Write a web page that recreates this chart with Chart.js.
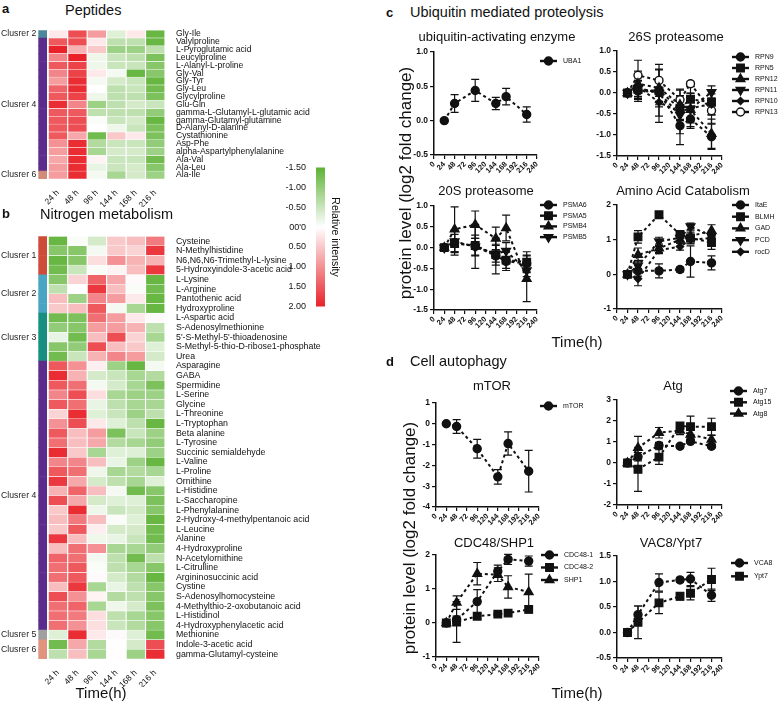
<!DOCTYPE html>
<html>
<head>
<meta charset="utf-8">
<script src="https://cdn.jsdelivr.net/npm/chart.js@4.4.1/dist/chart.umd.min.js"></script>
<style>
  body { margin: 0; width: 784px; height: 702px; background: #fff; position: relative; overflow: hidden;
         font-family: "Liberation Sans", Arial, sans-serif; color: #111; }
  canvas { position: absolute; }
  .t { position: absolute; white-space: nowrap; line-height: 1; }
</style>
</head>
<body>
<script>
// ---------- data ----------
const hours = [24, 48, 96, 144, 168, 216];
const heatTimeLabels = ['24 h', '48 h', '96 h', '144 h', '168 h', '216 h'];

const peptideNames = ['Gly-Ile', 'Valylproline', 'L-Pyroglutamic acid', 'Leucylproline', 'L-Alanyl-L-proline',
  'Gly-Val', 'Gly-Tyr', 'Gly-Leu', 'Glycylproline', 'Glu-Gln', 'gamma-L-Glutamyl-L-glutamic acid',
  'gamma-Glutamyl-glutamine', 'D-Alanyl-D-alanine', 'Cystathionine', 'Asp-Phe', 'alpha-Aspartylphenylalanine',
  'Ala-Val', 'Ala-Leu', 'Ala-Ile'];
const peptideGroups = [['Clusrer 2', 1], ['Clusrer 4', 17], ['Clusrer 6', 1]];
const peptideGroupColors = ['#4c879a', '#5b2c8c', '#d08a78'];
const peptideValues = [
  [0.2, 1.6, 0.9, -0.3, 0.2, -1.4],
  [1.5, 1.6, 0.2, -0.6, -0.6, -1.4],
  [2.0, 0.7, 0.5, -0.9, -0.9, -0.6],
  [1.1, 2.0, -0.15, -0.5, -0.6, -1.2],
  [1.5, 1.7, -0.15, -0.5, -0.5, -1.1],
  [1.1, 1.7, 0.2, -0.1, -1.4, -1.1],
  [0.9, 1.9, -0.1, -0.4, -0.5, -1.4],
  [1.4, 1.9, 0.0, -0.6, -0.5, -1.3],
  [1.5, 1.7, -0.15, -0.6, -0.6, -1.2],
  [1.9, 1.1, -0.9, -0.6, -0.4, -0.5],
  [1.5, 1.5, -0.6, -0.6, -0.6, -1.0],
  [1.5, 1.6, -0.05, -0.5, -0.4, -1.4],
  [1.5, 1.6, 0.0, -0.15, -0.5, -1.2],
  [1.5, 0.8, -1.3, 0.5, 0.2, -1.2],
  [1.0, 1.9, -0.7, -0.5, -0.5, -1.0],
  [0.9, 1.9, -0.8, -0.4, -0.4, -0.9],
  [0.8, 1.9, 0.1, -0.5, -0.5, -1.3],
  [0.9, 1.9, -0.2, -0.5, -0.4, -1.1],
  [0.9, 1.9, -0.1, -0.8, -0.4, -0.9]
];

const nitrogenNames = ['Cysteine', 'N-Methylhistidine', 'N6,N6,N6-Trimethyl-L-lysine', '5-Hydroxyindole-3-acetic acid',
  'L-Lysine', 'L-Arginine', 'Pantothenic acid', 'Hydroxyproline',
  'L-Aspartic acid', 'S-Adenosylmethionine', "5'-S-Methyl-5'-thioadenosine", 'S-Methyl-5-thio-D-ribose1-phosphate', 'Urea',
  'Asparagine', 'GABA', 'Spermidine', 'L-Serine', 'Glycine', 'L-Threonine', 'L-Tryptophan', 'Beta alanine',
  'L-Tyrosine', 'Succinic semialdehyde', 'L-Valine', 'L-Proline', 'Ornithine', 'L-Histidine', 'L-Saccharopine',
  'L-Phenylalanine', '2-Hydroxy-4-methylpentanoic acid', 'L-Leucine', 'Alanine', '4-Hydroxyproline',
  'N-Acetylornithine', 'L-Citrulline', 'Argininosuccinic acid', 'Cystine', 'S-Adenosylhomocysteine',
  '4-Methylthio-2-oxobutanoic acid', 'L-Histidinol', '4-Hydroxyphenylacetic acid',
  'Methionine', 'Indole-3-acetic acid', 'gamma-Glutamyl-cysteine'];
const nitrogenGroups = [['Clusrer 1', 4], ['Clusrer 2', 4], ['Clusrer 3', 5], ['Clusrer 4', 28], ['Clusrer 5', 1], ['Clusrer 6', 2]];
const nitrogenGroupColors = ['#cf4b38', '#4aa5c3', '#17907f', '#5b2c8c', '#a0a0a0', '#e0947e'];
const nitrogenValues = [
  [-1.4, -0.05, -0.4, 0.5, 0.6, 1.2],
  [-1.1, -1.1, -0.1, 0.5, 0.4, 1.8],
  [-1.4, -1.1, 0.3, 1.0, 0.7, 0.7],
  [-1.3, -0.5, -0.05, 0.1, 0.6, 1.8],
  [-1.1, 0.4, 1.4, 0.8, 0.05, -1.4],
  [-0.6, 0.0, 1.8, 0.6, -0.05, -1.3],
  [0.6, -0.9, 1.1, 0.9, 0.2, -1.4],
  [0.5, 0.6, 1.5, -0.1, -0.8, -1.4],
  [-1.3, -1.2, 1.3, 0.9, 0.2, 0.05],
  [-1.0, -1.1, 0.9, 0.9, 0.7, -0.6],
  [-0.2, -1.3, 0.6, 1.6, 0.4, -0.8],
  [-1.1, -1.0, 1.6, 0.6, 0.5, -0.3],
  [-1.3, -0.5, 0.7, 1.1, 0.9, -0.4],
  [1.5, 1.0, 0.15, -0.9, -1.4, -0.1],
  [1.9, 0.7, -0.4, -0.5, -0.8, -0.7],
  [1.5, 1.3, -0.1, -0.4, -0.8, -1.2],
  [1.1, 1.6, 0.3, -0.8, -0.9, -0.9],
  [1.5, 1.3, -0.2, -0.6, -0.8, -0.8],
  [0.4, 1.9, -0.3, -0.5, -0.9, -0.6],
  [1.0, 1.6, 0.2, -0.3, -0.6, -1.4],
  [1.5, 0.6, 0.9, -1.2, -0.5, -0.9],
  [1.3, 0.6, 0.8, -0.7, -0.8, -1.0],
  [1.9, 0.5, -0.8, -0.3, -0.3, -0.9],
  [1.1, 1.1, 0.6, -0.2, -0.9, -1.4],
  [1.5, 1.3, -0.15, -0.8, -0.7, -0.8],
  [1.8, 0.8, -0.4, -0.6, -0.8, -0.3],
  [0.7, 1.4, 0.6, -0.1, -1.3, -1.1],
  [1.6, 0.8, -0.4, -0.3, -0.3, -1.2],
  [0.5, 1.9, -0.15, -0.5, -0.4, -1.1],
  [0.6, 1.2, 0.6, -0.05, -0.3, -1.4],
  [0.5, 1.5, 0.15, -0.4, -0.4, -1.3],
  [1.8, 0.6, -0.15, -0.2, -0.5, -1.3],
  [0.6, 1.3, 1.0, -0.8, -0.8, -1.0],
  [1.4, 1.3, -0.1, -0.6, -1.3, -0.6],
  [1.3, 1.5, -0.05, -0.6, -0.8, -1.1],
  [1.3, 1.5, 0.05, -0.4, -0.7, -1.4],
  [0.6, 1.8, -0.8, -0.2, -0.6, -1.1],
  [1.6, 1.0, 0.1, -0.7, -0.6, -1.1],
  [1.3, 1.4, -0.8, -0.15, -0.4, -1.2],
  [1.3, 1.2, 0.3, -0.6, -0.8, -1.1],
  [1.3, 1.0, 0.3, -0.5, -0.7, -1.1],
  [-0.3, 1.9, 0.2, 0.05, -0.3, -1.3],
  [-1.3, 0.8, -0.7, 0.02, -0.4, 1.6],
  [-0.6, 0.6, -0.8, 0.02, -0.9, 1.9]
];

const colorbarTicks = [-1.5, -1, -0.5, 0, 0.5, 1, 1.5, 2];
const colorbarLabels = ['-1.50', '-1.00', '-0.50', "00'0", '0.50', '1.00', '1.50', '2.00'];

// c: ubiquitin mediated proteolysis
const uba1 = [0, 0.25, 0.44, 0.25, 0.35, 0.09];
const uba1Err = [0, 0.13, 0.16, 0.09, 0.12, 0.11];

const rpn9 = [0, 0.05, 0.02, -0.78, -0.62, -1.04];
const rpn9Err = [0, 0.25, 0.3, 0.45, 0.22, 0.3];
const rpn5 = [0, 0.08, 0.05, -0.36, -0.15, -0.22];
const rpn5Err = [0, 0.2, 0.25, 0.3, 0.3, 0.3];
const rpn12 = [0, 0.22, 0.12, -0.28, -0.4, -0.97];
const rpn12Err = [0, 0.3, 0.45, 0.35, 0.4, 0.35];
const rpn11 = [0, 0.12, 0.0, -0.52, -0.38, 0.02];
const rpn11Err = [0, 0.25, 0.55, 0.45, 0.3, 0.15];
const rpn10 = [0, 0.15, -0.22, -0.45, -0.36, -0.27];
const rpn10Err = [0, 0.3, 0.48, 0.3, 0.35, 0.25];
const rpn13 = [0, 0.42, 0.3, -0.16, 0.22, -0.42];
const rpn13Err = [0, 0.36, 0.38, 0.25, 0.06, 0.3];

const psma6 = [0, 0.12, 0.03, -0.2, -0.33, -0.38];
const psma6Err = [0, 0.3, 0.53, 0.43, 0.22, 0.2];
const psma5 = [0, 0.1, 0.05, -0.17, -0.3, -0.35];
const psma5Err = [0, 0.22, 0.25, 0.25, 0.2, 0.25];
const psmb4 = [0, 0.44, 0.55, 0.22, 0.47, -0.75];
const psmb4Err = [0, 0.54, 0.33, 0.27, 0.31, 0.55];
const psmb5 = [0, 0.15, 0.02, -0.15, -0.08, -0.55];
const psmb5Err = [0, 0.25, 0.2, 0.2, 0.2, 0.15];

const itaE = [0, 0.1, 0.1, 0.14, 0.37, 0.33];
const itaEErr = [0, 0.15, 0.2, 0.07, 0.45, 0.2];
const blmh = [0, 1.08, 1.72, 1.15, 1.05, 0.92];
const blmhErr = [0, 0.18, 0.05, 0.1, 0.15, 0.2];
const gad = [0, 0.56, 0.75, 1.0, 1.1, 1.26];
const gadErr = [0, 0.2, 0.12, 0.1, 0.15, 0.17];
const pcd = [0, 0.25, 0.95, 1.05, 1.38, 1.1];
const pcdErr = [0, 0.15, 0.12, 0.1, 0.1, 0.1];
const rocD = [0, -0.13, 0.7, 0.8, 1.0, 1.05];
const rocDErr = [0, 0.2, 0.1, 0.1, 0.12, 0.1];

// d: cell autophagy
const mtor = [0, -0.13, -1.2, -2.55, -0.95, -2.28];
const mtorErr = [0, 0.33, 0.45, 0.35, 0.56, 1.0];

const atg7 = [0, 0.3, 0.83, 0.8, 1.03, 0.8];
const atg7Err = [0, 0.2, 0.15, 0.08, 0.1, 0.08];
const atg15 = [0, -0.3, 0.28, 1.77, 1.73, 1.73];
const atg15Err = [0, 1.05, 0.35, 0.12, 0.5, 0.4];
const atg8 = [0, 0.72, 1.44, 1.55, 1.36, 1.12];
const atg8Err = [0, 0.55, 0.25, 0.2, 0.2, 0.2];

const cdc48a = [0, 0.1, 0.63, 1.52, 1.87, 1.82];
const cdc48aErr = [0, 0.1, 0.35, 0.18, 0.15, 0.15];
const cdc48b = [0, 0.03, 0.2, 0.26, 0.29, 0.4];
const cdc48bErr = [0, 0.6, 0.08, 0.05, 0.05, 0.1];
const shp1 = [0, 0.6, 1.45, 1.42, 1.06, 0.91];
const shp1Err = [0, 0.2, 0.33, 0.2, 0.33, 0.53];

const vca8 = [0, 0.35, 0.98, 1.03, 1.05, 0.73];
const vca8Err = [0, 0.17, 0.17, 0.05, 0.13, 0.12];
const ypt7 = [0, 0.2, 0.58, 0.71, 0.77, 1.04];
const ypt7Err = [0, 0.32, 0.21, 0.07, 0.13, 0.22];

// ---------- helpers ----------
const FONT = '"Liberation Sans", Arial, sans-serif';
Chart.defaults.font.family = FONT;
Chart.defaults.color = '#111';

function heatColor(v) {
  const w = [255, 255, 255], g = [92, 178, 52], r = [232, 34, 40];
  let c, t;
  if (v < 0) { c = g; t = Math.min(1, -v / 1.5); } else { c = r; t = Math.min(1, v / 2); }
  const m = w.map((x, i) => Math.round(x + (c[i] - x) * t));
  return 'rgb(' + m.join(',') + ')';
}

function makeCanvas(id, left, top, w, h) {
  const cv = document.createElement('canvas');
  cv.id = id;
  cv.width = w; cv.height = h;
  cv.style.left = left + 'px'; cv.style.top = top + 'px';
  cv.style.width = w + 'px'; cv.style.height = h + 'px';
  document.body.appendChild(cv);
  return cv;
}

function addText(str, x, y, size, opt) {
  opt = opt || {};
  const d = document.createElement('div');
  d.className = 't';
  d.textContent = str;
  d.style.left = x + 'px'; d.style.top = y + 'px';
  d.style.fontSize = size + 'px';
  if (opt.bold) d.style.fontWeight = 'bold';
  d.style.transform = opt.tf || 'translateY(-50%)';
  document.body.appendChild(d);
}

// cluster names on the left of a heat map
const groupLabelPlugin = {
  id: 'groupLabels',
  afterDraw(chart, args, opts) {
    const { ctx, chartArea, scales: { y } } = chart;
    ctx.save();
    ctx.font = '8.7px ' + FONT;
    ctx.fillStyle = '#222';
    ctx.textAlign = 'right';
    ctx.textBaseline = 'middle';
    let start = 0;
    opts.groups.forEach(g => {
      const yc = (y.getPixelForValue(start) + y.getPixelForValue(start + g[1] - 1)) / 2;
      ctx.fillText(g[0], chartArea.left - 2, yc);
      start += g[1];
    });
    ctx.restore();
  }
};

const CL_W = 0.43, GAP = 0.08;
function heatmap(id, names, values, groups, groupColors, area, nameSize) {
  const [l, t, w, h] = area;
  const AXH = 28, YW = 175;
  const rowColors = [];
  groups.forEach((g, k) => { for (let i = 0; i < g[1]; i++) rowColors.push(groupColors[k]); });
  const cv = makeCanvas(id, 0, t - 1, Math.round(l + w + YW), Math.round(h + 1 + AXH));
  const datasets = [
    { data: names.map(() => CL_W), backgroundColor: rowColors, borderWidth: 0 },
    { data: names.map(() => GAP), backgroundColor: 'rgba(0,0,0,0)', borderWidth: 0 }
  ];
  heatTimeLabels.forEach((lab, j) => datasets.push({
    label: lab,
    data: names.map(() => 1),
    backgroundColor: values.map(r => heatColor(r[j])),
    borderColor: '#fff',
    borderWidth: { left: 0.9, right: 0.9, top: 0.5, bottom: 0.5 },
    borderSkipped: false
  }));
  datasets.forEach(d => { d.barPercentage = 1; d.categoryPercentage = 1; });

  new Chart(cv, {
    type: 'bar',
    data: { labels: names, datasets },
    options: {
      indexAxis: 'y', responsive: false, animation: false,
      layout: { padding: { left: l, top: 1, right: 0, bottom: 0 } },
      plugins: { legend: { display: false }, tooltip: { enabled: false }, groupLabels: { groups } },
      scales: {
        x: {
          type: 'linear', stacked: true, min: 0, max: CL_W + GAP + 6,
          grid: { display: false }, border: { display: false },
          afterBuildTicks: s => { s.ticks = heatTimeLabels.map((_, i) => ({ value: CL_W + GAP + i + 0.5 })); },
          afterFit: s => { s.height = AXH; },
          ticks: { callback: (v, i) => heatTimeLabels[i], minRotation: 45, maxRotation: 45, font: { size: 8.5 }, padding: 1 }
        },
        y: {
          stacked: true, position: 'right',
          grid: { display: false }, border: { display: false },
          afterFit: s => { s.width = YW; },
          ticks: { autoSkip: false, font: { size: nameSize }, padding: 3 }
        }
      }
    },
    plugins: [groupLabelPlugin]
  });
}

// error bars behind the lines
const errorBarPlugin = {
  id: 'errorBars',
  beforeDatasetsDraw(chart) {
    const { ctx, scales: { x, y } } = chart;
    ctx.save();
    ctx.strokeStyle = '#111';
    ctx.lineWidth = 1.2;
    chart.data.datasets.forEach(ds => {
      ds.data.forEach((p, i) => {
        const e = ds.errors[i];
        if (!e) return;
        const px = x.getPixelForValue(p.x);
        const top = y.getPixelForValue(p.y + e), bot = y.getPixelForValue(p.y - e);
        ctx.beginPath();
        ctx.moveTo(px, top); ctx.lineTo(px, bot);
        ctx.moveTo(px - 4, top); ctx.lineTo(px + 4, top);
        ctx.moveTo(px - 4, bot); ctx.lineTo(px + 4, bot);
        ctx.stroke();
      });
    });
    ctx.restore();
  }
};

function fallbackPoint(ctx, o, x, y) {
  const r = o.radius;
  ctx.beginPath();
  if (o.pointStyle === 'rect') ctx.rect(x - r * 0.707, y - r * 0.707, r * 1.414, r * 1.414);
  else if (o.pointStyle === 'rectRot') { ctx.moveTo(x, y - r); ctx.lineTo(x + r, y); ctx.lineTo(x, y + r); ctx.lineTo(x - r, y); ctx.closePath(); }
  else if (o.pointStyle === 'triangle') {
    const s = o.rotation ? -1 : 1;
    ctx.moveTo(x, y - s * r); ctx.lineTo(x + r * 0.87, y + s * r * 0.5); ctx.lineTo(x - r * 0.87, y + s * r * 0.5); ctx.closePath();
  } else ctx.arc(x, y, r, 0, Math.PI * 2);
  ctx.fill(); ctx.stroke();
}
const drawPt = (Chart.helpers && Chart.helpers.drawPoint) ? Chart.helpers.drawPoint : fallbackPoint;

// legend at the right side: line with the marker, then the name
const sideLegendPlugin = {
  id: 'sideLegend',
  afterDraw(chart, args, opts) {
    const { ctx, chartArea } = chart;
    const [dx, dy, pitch] = opts.at;
    ctx.save();
    chart.data.datasets.forEach((ds, i) => {
      const x0 = chartArea.right + dx, y0 = chartArea.top + dy + i * pitch;
      ctx.setLineDash([]);
      ctx.strokeStyle = '#111';
      ctx.lineWidth = 2.4;
      ctx.beginPath(); ctx.moveTo(x0, y0); ctx.lineTo(x0 + 17, y0); ctx.stroke();
      ctx.lineWidth = 1.4;
      ctx.fillStyle = ds.pointBackgroundColor;
      drawPt(ctx, { pointStyle: ds.pointStyle, rotation: ds.pointRotation, radius: ds.pointRadius, borderWidth: 1.4 }, x0 + 8.5, y0);
      ctx.fillStyle = '#111';
      ctx.font = '7px ' + FONT;
      ctx.textAlign = 'left';
      ctx.textBaseline = 'middle';
      ctx.fillText(ds.label, x0 + 23, y0);
    });
    ctx.restore();
  }
};

const MARK = {
  circle: { style: 'circle', rot: 0, r: 4 },
  square: { style: 'rect', rot: 0, r: 5.3 },
  tri: { style: 'triangle', rot: 0, r: 5 },
  inv: { style: 'triangle', rot: 180, r: 5 },
  diamond: { style: 'rectRot', rot: 0, r: 3.6 },
  open: { style: 'circle', rot: 0, r: 4 }
};

function linePlot(id, area, yr, series, legendAt) {
  const [l, t, w, h] = area;
  const YW = 30, XH = 30, PT = 14, LW = 64;
  const cv = makeCanvas(id, l - YW, t - PT, YW + w + LW, PT + h + XH);
  const axisGrid = { drawOnChartArea: false, tickLength: 4, color: '#111', lineWidth: 1.2 };
  new Chart(cv, {
    type: 'line',
    data: {
      datasets: series.map(s => ({
        label: s[0],
        data: hours.map((hh, i) => ({ x: hh, y: s[1][i] })),
        errors: s[2],
        borderColor: '#111', borderWidth: 2, borderDash: [3, 3], fill: false, tension: 0,
        pointStyle: MARK[s[3]].style, pointRotation: MARK[s[3]].rot, pointRadius: MARK[s[3]].r,
        pointBackgroundColor: s[3] === 'open' ? '#fff' : '#111',
        pointBorderColor: '#111', pointBorderWidth: 1.4
      }))
    },
    options: {
      responsive: false, animation: false,
      layout: { padding: { top: PT, right: LW, left: 0, bottom: 0 } },
      plugins: { legend: { display: false }, tooltip: { enabled: false }, sideLegend: { at: legendAt } },
      scales: {
        x: {
          type: 'linear', min: 0, max: 240,
          ticks: { stepSize: 24, autoSkip: false, minRotation: 45, maxRotation: 45, font: { size: 7.5, weight: 'bold' }, padding: 1 },
          grid: axisGrid, border: { color: '#111', width: 1.5 },
          afterFit: s => { s.height = XH; }
        },
        y: {
          min: yr[0], max: yr[1],
          ticks: { stepSize: yr[2], font: { size: 8.5, weight: 'bold' }, padding: 2, callback: v => v.toFixed(yr[3]) },
          grid: axisGrid, border: { color: '#111', width: 1.5 },
          afterFit: s => { s.width = YW; }
        }
      }
    },
    plugins: [errorBarPlugin, sideLegendPlugin]
  });
}

// ---------- heat maps ----------
heatmap('peptides', peptideNames, peptideValues, peptideGroups, peptideGroupColors, [38.3, 22.7, 126.7, 156.3], 8.6);
heatmap('nitrogen', nitrogenNames, nitrogenValues, nitrogenGroups, nitrogenGroupColors, [38.3, 229.3, 126.7, 429.7], 8.8);

// colour bar
(function () {
  const YW = 32, PT = 7, W = 9, H = 140;
  const cv = makeCanvas('colorbar', 316 - YW, 167 - PT, YW + W, PT + H + PT);
  new Chart(cv, {
    type: 'bar',
    data: {
      labels: [''],
      datasets: [{
        data: [[colorbarTicks[0], colorbarTicks[colorbarTicks.length - 1]]],
        barPercentage: 1, categoryPercentage: 1, borderWidth: 0,
        backgroundColor: c => {
          const ca = c.chart.chartArea;
          if (!ca) return '#fff';
          const g = c.chart.ctx.createLinearGradient(0, ca.top, 0, ca.bottom);
          g.addColorStop(0, heatColor(-1.5));
          g.addColorStop(1.5 / 3.5, '#ffffff');
          g.addColorStop(1, heatColor(2));
          return g;
        }
      }]
    },
    options: {
      responsive: false, animation: false,
      layout: { padding: { top: PT, bottom: PT, left: 0, right: 0 } },
      plugins: { legend: { display: false }, tooltip: { enabled: false } },
      scales: {
        x: { display: false },
        y: {
          min: -1.5, max: 2, reverse: true,
          grid: { display: false }, border: { display: false },
          afterBuildTicks: s => { s.ticks = colorbarTicks.map(v => ({ value: v })); },
          afterFit: s => { s.width = YW; },
          ticks: { callback: (v, i) => colorbarLabels[i], font: { size: 9 }, padding: 2 }
        }
      }
    }
  });
})();

// ---------- line plots ----------
linePlot('uba', [434, 52, 103, 103], [-0.5, 1, 0.5, 1], [
  ['UBA1', uba1, uba1Err, 'circle']
], [3, 9, 11]);
linePlot('p26', [617, 51, 105, 105], [-1.5, 1, 0.5, 1], [
  ['RPN9', rpn9, rpn9Err, 'circle'],
  ['RPN5', rpn5, rpn5Err, 'square'],
  ['RPN12', rpn12, rpn12Err, 'tri'],
  ['RPN11', rpn11, rpn11Err, 'inv'],
  ['RPN10', rpn10, rpn10Err, 'diamond'],
  ['RPN13', rpn13, rpn13Err, 'open']
], [10, 6, 11]);
linePlot('p20', [434, 206, 103, 104], [-1.5, 1, 0.5, 1], [
  ['PSMA6', psma6, psma6Err, 'circle'],
  ['PSMA5', psma5, psma5Err, 'square'],
  ['PSMB4', psmb4, psmb4Err, 'tri'],
  ['PSMB5', psmb5, psmb5Err, 'inv']
], [3, -1, 10.7]);
linePlot('aac', [617, 205, 105, 104], [-1, 2, 1, 0], [
  ['ItaE', itaE, itaEErr, 'circle'],
  ['BLMH', blmh, blmhErr, 'square'],
  ['GAD', gad, gadErr, 'tri'],
  ['PCD', pcd, pcdErr, 'inv'],
  ['rocD', rocD, rocDErr, 'diamond']
], [10, 0, 11.7]);
linePlot('mtor', [436, 403, 103, 104], [-4, 1, 1, 0], [
  ['mTOR', mtor, mtorErr, 'circle']
], [1, 3, 11]);
linePlot('atg', [617, 400, 105, 105], [-2, 3, 1, 0], [
  ['Atg7', atg7, atg7Err, 'circle'],
  ['Atg15', atg15, atg15Err, 'square'],
  ['Atg8', atg8, atg8Err, 'tri']
], [8, -9, 11.3]);
linePlot('cdc', [436, 555, 103, 102], [-1, 2, 1, 0], [
  ['CDC48-1', cdc48a, cdc48aErr, 'circle'],
  ['CDC48-2', cdc48b, cdc48bErr, 'square'],
  ['SHP1', shp1, shp1Err, 'tri']
], [2, 0, 12.5]);
linePlot('vac', [617, 556, 105, 102], [-0.5, 1.5, 0.5, 1], [
  ['VCA8', vca8, vca8Err, 'circle'],
  ['Ypt7', ypt7, ypt7Err, 'square']
], [9, 7, 13.3]);

// ---------- text ----------
addText('a', 2, 8, 13, { bold: true });
addText('Peptides', 65, 10, 14.5);
addText('b', 2, 213, 13, { bold: true });
addText('Nitrogen metabolism', 40, 214, 14.5);
addText('Time(h)', 101, 692, 15, { tf: 'translate(-50%,-50%)' });
addText('Relative intensity', 336, 237, 10.5, { tf: 'translate(-50%,-50%) rotate(90deg)' });

addText('c', 386, 12, 13, { bold: true });
addText('Ubiquitin mediated proteolysis', 410, 12, 14.5);
addText('ubiquitin-activating enzyme', 497, 36, 13, { tf: 'translate(-50%,-50%)' });
addText('26S proteasome', 676, 36, 13, { tf: 'translate(-50%,-50%)' });
addText('20S proteasome', 486, 190, 13, { tf: 'translate(-50%,-50%)' });
addText('Amino Acid Catabolism', 683, 190, 13, { tf: 'translate(-50%,-50%)' });
addText('Time(h)', 577, 341, 15, { tf: 'translate(-50%,-50%)' });
addText('protein level (log2 fold change)', 405, 183, 17, { tf: 'translate(-50%,-50%) rotate(-90deg)' });

addText('d', 386, 361, 13, { bold: true });
addText('Cell autophagy', 410, 361, 14.5);
addText('mTOR', 492, 385, 13, { tf: 'translate(-50%,-50%)' });
addText('Atg', 673, 385, 13, { tf: 'translate(-50%,-50%)' });
addText('CDC48/SHP1', 494, 542, 13, { tf: 'translate(-50%,-50%)' });
addText('VAC8/Ypt7', 671, 542, 13, { tf: 'translate(-50%,-50%)' });
addText('Time(h)', 577, 692, 15, { tf: 'translate(-50%,-50%)' });
addText('protein level (log2 fold change)', 409, 538, 17, { tf: 'translate(-50%,-50%) rotate(-90deg)' });
</script>
</body>
</html>
